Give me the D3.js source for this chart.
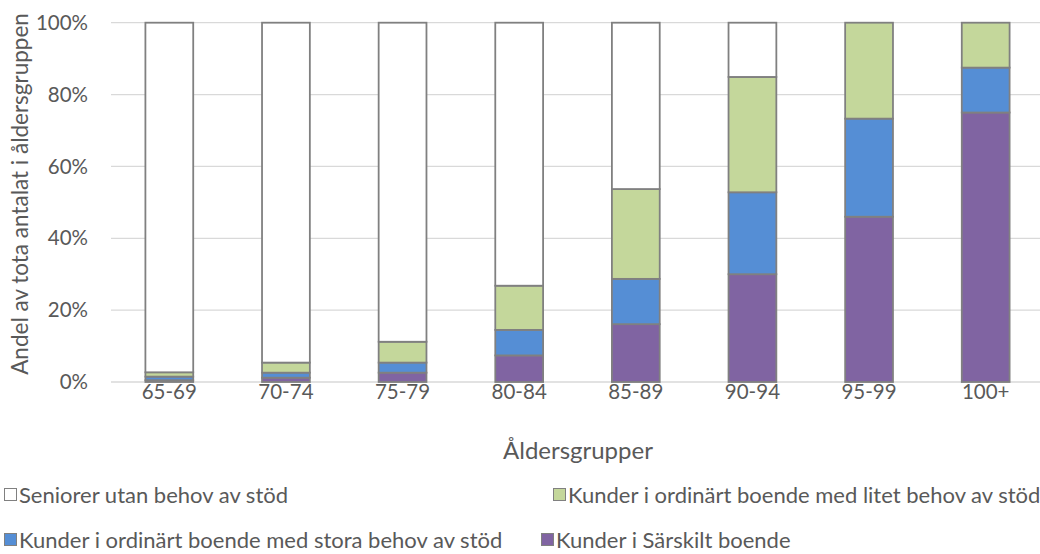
<!DOCTYPE html>
<html>
<head>
<meta charset="utf-8">
<script src="https://cdn.jsdelivr.net/npm/d3@7"></script>
<style>
  body { margin: 0; background: #fff; }
  svg { display: block; font-family: Lato, "Open Sans", sans-serif; }
  .tick-label { fill: #595959; font-size: 20.5px; }
  .x-title { fill: #595959; font-size: 24px; }
  .y-title { fill: #595959; font-size: 22.5px; }
  .legend-label { fill: #595959; font-size: 22px; }
</style>
</head>
<body>
<svg id="chart" width="1040" height="554"></svg>
<script>
const ageGroups = ['65-69', '70-74', '75-79', '80-84', '85-89', '90-94', '95-99', '100+'];

// andel i procent, nedifrån och upp
const sarskiltBoende = [0.5, 1.2, 2.6, 7.4, 16.1, 30.0, 46.0, 75.0];
const storaBehov     = [1.0, 1.4, 2.8, 7.1, 12.6, 22.8, 27.3, 12.5];
const litetBehov     = [1.2, 2.8, 5.8, 12.3, 25.0, 32.1, 26.7, 12.5];
const utanBehov      = [97.3, 94.6, 88.8, 73.2, 46.3, 15.1, 0, 0];

const seriesNames = [
  'Kunder i Särskilt boende',
  'Kunder i ordinärt boende med stora behov av stöd',
  'Kunder i ordinärt boende med litet behov av stöd',
  'Seniorer utan behov av stöd'
];
const seriesColors = ['#8064a2', '#558ed5', '#c4d79b', '#ffffff'];
const yTicks = [0, 20, 40, 60, 80, 100];

const svg = d3.select('#chart');

const rows = ageGroups.map((g, i) => ({
  group: g,
  [seriesNames[0]]: sarskiltBoende[i],
  [seriesNames[1]]: storaBehov[i],
  [seriesNames[2]]: litetBehov[i],
  [seriesNames[3]]: utanBehov[i]
}));

const x = d3.scaleBand()
  .domain(ageGroups)
  .range([111, 1044])
  .paddingInner(0.59)
  .paddingOuter(0.295);

const y = d3.scaleLinear().domain([0, 100]).range([382, 22.7]);

const color = d3.scaleOrdinal().domain(seriesNames).range(seriesColors);

//gridlines
svg.append('g')
  .selectAll('line')
  .data(yTicks)
  .join('line')
  .attr('x1', 111).attr('x2', 1040)
  .attr('y1', d => y(d)).attr('y2', d => y(d))
  .attr('stroke', '#d9d9d9')
  .attr('stroke-width', 1.3);

// y labels
svg.append('g')
  .selectAll('text')
  .data(yTicks)
  .join('text')
  .attr('class', 'tick-label')
  .attr('x', 88)
  .attr('y', d => y(d))
  .attr('dy', '0.35em')
  .attr('text-anchor', 'end')
  .text(d => d + '%');

const stacked = d3.stack().keys(seriesNames)(rows);

svg.append('g')
  .selectAll('g')
  .data(stacked)
  .join('g')
  .attr('fill', s => color(s.key))
  .selectAll('rect')
  .data(s => s.filter(d => d[1] - d[0] > 0))
  .join('rect')
  .attr('x', d => x(d.data.group))
  .attr('y', d => y(d[1]))
  .attr('width', x.bandwidth())
  .attr('height', d => y(d[0]) - y(d[1]))
  .attr('stroke', '#808080')
  .attr('stroke-width', 1.8);

// x labels
svg.append('g')
  .selectAll('text')
  .data(ageGroups)
  .join('text')
  .attr('class', 'tick-label')
  .attr('x', d => x(d) + x.bandwidth() / 2)
  .attr('y', 399)
  .attr('text-anchor', 'middle')
  .text(d => d);

//x-axis title
svg.append('text')
  .attr('class', 'x-title')
  .attr('x', 578).attr('y', 459)
  .attr('text-anchor', 'middle')
  .text('Åldersgrupper');

//y-axis title
svg.append('text')
  .attr('class', 'y-title')
  .attr('transform', 'rotate(-90)')
  .attr('x', -194).attr('y', 28)
  .attr('text-anchor', 'middle')
  .text('Andel av tota antalat i åldersgruppen');

// legend
const legendItems = [
  {name: seriesNames[3], x: 4, y: 495},
  {name: seriesNames[2], x: 553, y: 495},
  {name: seriesNames[1], x: 4, y: 540},
  {name: seriesNames[0], x: 541, y: 540}
];

const legend = svg.append('g')
  .selectAll('g')
  .data(legendItems)
  .join('g')
  .attr('transform', d => `translate(${d.x},${d.y})`);

legend.append('rect')
  .attr('x', 0.5).attr('y', -6.5)
  .attr('width', 12).attr('height', 12)
  .attr('fill', d => color(d.name))
  .attr('stroke', '#808080')
  .attr('stroke-width', 1);

legend.append('text')
  .attr('class', 'legend-label')
  .attr('x', 15)
  .attr('dy', '0.35em')
  .text(d => d.name);
</script>
</body>
</html>
